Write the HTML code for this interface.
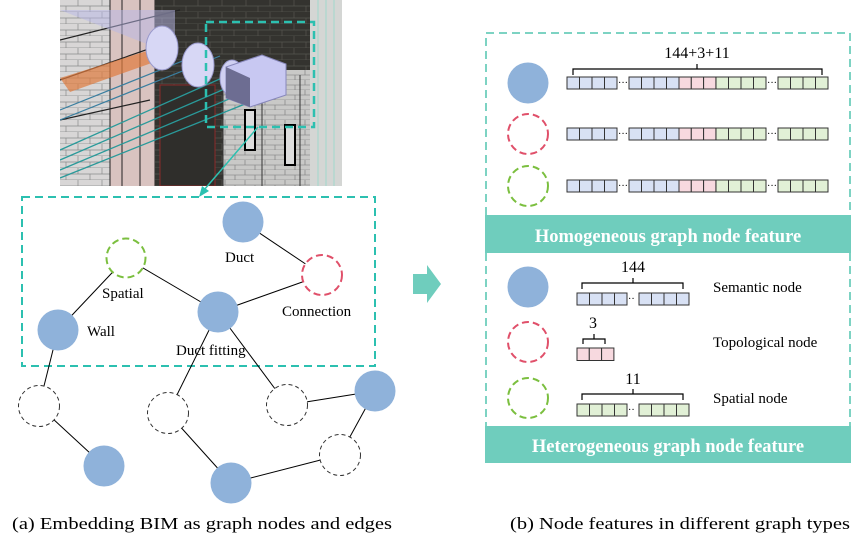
<!DOCTYPE html>
<html><head><meta charset="utf-8"><style>
html,body{margin:0;padding:0;background:#fff;}
svg{display:block;}
text{font-family:"Liberation Serif",serif;}
</style></head><body>
<svg width="865" height="548" viewBox="0 0 865 548" xmlns="http://www.w3.org/2000/svg">
<defs>
<pattern id="brickL" width="24" height="12" patternUnits="userSpaceOnUse">
<rect width="24" height="12" fill="#d8d6d6"/>
<path d="M0 12H24M0 6H24M6 0V6M18 6V12" stroke="#8a8a8a" stroke-width="0.7"/>
</pattern>
<pattern id="brickD" width="24" height="12" patternUnits="userSpaceOnUse">
<rect width="24" height="12" fill="#34332f"/>
<path d="M0 12H24M0 6H24M6 0V6M18 6V12" stroke="#55544f" stroke-width="0.7"/>
</pattern>
<pattern id="brickG" width="20" height="10" patternUnits="userSpaceOnUse">
<rect width="20" height="10" fill="#c9c9c7"/>
<path d="M0 10H20M0 5H20M5 0V5M15 5V10" stroke="#777" stroke-width="0.6"/>
</pattern>
<clipPath id="img"><rect x="60" y="0" width="282" height="186"/></clipPath>
</defs>

<!-- BIM image -->
<g clip-path="url(#img)">
<rect x="60" y="0" width="282" height="186" fill="url(#brickL)"/>
<rect x="110" y="0" width="45" height="186" fill="#d9c3c0"/>
<path d="M110 0V186M122 0V186M140 0V186M155 0V186" stroke="#222" stroke-width="1"/>
<rect x="155" y="0" width="155" height="186" fill="url(#brickD)"/>
<rect x="160" y="85" width="55" height="101" fill="#2f2e2b" stroke="#8b2a2a"/>
<rect x="223" y="70" width="87" height="116" fill="url(#brickG)"/>
<path d="M223 70V186M262 75V186M300 75V186" stroke="#333"/>
<rect x="310" y="0" width="32" height="186" fill="#d4d6d4"/>
<path d="M318 0V186M326 0V186M334 0V186" stroke="#9fd8cc" stroke-width="1"/>
<path d="M60 40L180 10M60 80L160 45M60 120L150 100" stroke="#222" stroke-width="1.2"/>
<path d="M60 78L150 50L160 60L70 92Z" fill="#e07a3d" opacity="0.7"/>
<path d="M60 150L240 70M60 160L250 78M60 170L260 86M60 178L270 94" stroke="#2a9a9a" stroke-width="1.3"/>
<path d="M60 110L210 50M60 120L220 56" stroke="#3a7fa0" stroke-width="1.2"/>
<path d="M60 10L175 55L175 10Z" fill="#b8b8e8" opacity="0.5"/>
<ellipse cx="162" cy="48" rx="16" ry="22" fill="#d7d7f5" stroke="#9999cc"/>
<ellipse cx="198" cy="65" rx="16" ry="22" fill="#d7d7f5" stroke="#9999cc"/>
<ellipse cx="232" cy="78" rx="12" ry="18" fill="#d0d0f2" stroke="#9999cc"/>
<path d="M226 67L262 55L286 64V95L250 107L226 98Z" fill="#c8c8f2" stroke="#8888bb"/>
<path d="M226 67L250 78V107L226 98Z" fill="#6d6d92"/>
<rect x="245" y="110" width="10" height="40" fill="#ddd" stroke="#000" stroke-width="2"/>
<rect x="285" y="125" width="10" height="40" fill="#ddd" stroke="#000" stroke-width="2"/>
<rect x="206" y="22" width="108" height="105" fill="none" stroke="#2cc0b0" stroke-width="2.5" stroke-dasharray="8,5"/>
</g>
<line x1="258" y1="127" x2="204" y2="190" stroke="#2cc0b0" stroke-width="1.5"/>
<path d="M199 197L202 186L209 191Z" fill="#2cc0b0"/>

<!-- left graph -->
<rect x="22" y="197" width="353" height="169" fill="none" stroke="#2cc0b0" stroke-width="2" stroke-dasharray="8,5"/>
<g stroke="#000" stroke-width="1">
<line x1="243" y1="222" x2="322" y2="275"/>
<line x1="126" y1="258" x2="218" y2="312"/>
<line x1="126" y1="258" x2="58" y2="330"/>
<line x1="218" y1="312" x2="322" y2="275"/>
<line x1="218" y1="312" x2="168" y2="413"/>
<line x1="218" y1="312" x2="287" y2="405"/>
<line x1="58" y1="330" x2="39" y2="406"/>
<line x1="39" y1="406" x2="104" y2="466"/>
<line x1="168" y1="413" x2="231" y2="483"/>
<line x1="287" y1="405" x2="375" y2="391"/>
<line x1="375" y1="391" x2="340" y2="455"/>
<line x1="340" y1="455" x2="231" y2="483"/>
</g>
<g fill="#8fb2da">
<circle cx="243" cy="222" r="20.5"/>
<circle cx="218" cy="312" r="20.5"/>
<circle cx="58" cy="330" r="20.5"/>
<circle cx="375" cy="391" r="20.5"/>
<circle cx="104" cy="466" r="20.5"/>
<circle cx="231" cy="483" r="20.5"/>
</g>
<circle cx="126" cy="258" r="19.5" fill="#fff" stroke="#7bbf3f" stroke-width="2" stroke-dasharray="7,4"/>
<circle cx="322" cy="275" r="20" fill="#fff" stroke="#e0506a" stroke-width="2" stroke-dasharray="7,4"/>
<g fill="#fff" stroke="#333" stroke-width="1" stroke-dasharray="4,3">
<circle cx="39" cy="406" r="20.5"/>
<circle cx="168" cy="413" r="20.5"/>
<circle cx="287" cy="405" r="20.5"/>
<circle cx="340" cy="455" r="20.5"/>
</g>
<g font-size="15" fill="#000">
<text x="225" y="262">Duct</text>
<text x="102" y="298">Spatial</text>
<text x="282" y="316">Connection</text>
<text x="87" y="336">Wall</text>
<text x="176" y="355">Duct fitting</text>
</g>

<!-- arrow -->
<path d="M413 274H427V265L441 284L427 303V294H413Z" fill="#6fcdbd"/>

<!-- right panel -->
<path d="M486 215V33H850V215M486 253V426M850 253V426" fill="none" stroke="#7dd3c3" stroke-width="2" stroke-dasharray="8,5"/>
<rect x="485" y="215" width="366" height="38" fill="#6fcdbd"/>
<rect x="485" y="426" width="366" height="37" fill="#6fcdbd"/>
<text x="668" y="242" font-size="18.5" font-weight="bold" fill="#fff" text-anchor="middle">Homogeneous graph node feature</text>
<text x="668" y="452" font-size="18.5" font-weight="bold" fill="#fff" text-anchor="middle">Heterogeneous graph node feature</text>

<circle cx="528" cy="83" r="20.5" fill="#8fb2da"/>
<circle cx="528" cy="134" r="20" fill="none" stroke="#e0506a" stroke-width="2" stroke-dasharray="7,4"/>
<circle cx="528" cy="186" r="20" fill="none" stroke="#7bbf3f" stroke-width="2" stroke-dasharray="7,4"/>

<text x="697" y="58" font-size="16" text-anchor="middle">144+3+11</text>
<path d="M573 75V69H822V75M697 69V64" fill="none" stroke="#000" stroke-width="1.2"/>

<g id="row" stroke="#333" stroke-width="1">
<g fill="#d8e1f4">
<rect x="567" y="77" width="12.5" height="12"/><rect x="579.5" y="77" width="12.5" height="12"/><rect x="592" y="77" width="12.5" height="12"/><rect x="604.5" y="77" width="12.5" height="12"/>
<rect x="629" y="77" width="12.5" height="12"/><rect x="641.5" y="77" width="12.5" height="12"/><rect x="654" y="77" width="12.5" height="12"/><rect x="666.5" y="77" width="12.5" height="12"/>
</g>
<g fill="#f7d9df">
<rect x="679" y="77" width="12.3" height="12"/><rect x="691.3" y="77" width="12.3" height="12"/><rect x="703.6" y="77" width="12.3" height="12"/>
</g>
<g fill="#e1f0d6">
<rect x="716" y="77" width="12.5" height="12"/><rect x="728.5" y="77" width="12.5" height="12"/><rect x="741" y="77" width="12.5" height="12"/><rect x="753.5" y="77" width="12.5" height="12"/>
<rect x="778" y="77" width="12.5" height="12"/><rect x="790.5" y="77" width="12.5" height="12"/><rect x="803" y="77" width="12.5" height="12"/><rect x="815.5" y="77" width="12.5" height="12"/>
</g>
</g>
<g font-size="10"><text x="618" y="86">···</text><text x="767" y="86">···</text></g>
<use href="#row" y="51"/>
<g font-size="10"><text x="618" y="137">···</text><text x="767" y="137">···</text></g>
<use href="#row" y="103"/>
<g font-size="10"><text x="618" y="189">···</text><text x="767" y="189">···</text></g>

<!-- hetero -->
<circle cx="528" cy="287" r="20.5" fill="#8fb2da"/>
<circle cx="528" cy="342" r="20" fill="none" stroke="#e0506a" stroke-width="2" stroke-dasharray="7,4"/>
<circle cx="528" cy="398" r="20" fill="none" stroke="#7bbf3f" stroke-width="2" stroke-dasharray="7,4"/>

<text x="633" y="272" font-size="16" text-anchor="middle">144</text>
<path d="M582 289V283H683V289M633 283V278" fill="none" stroke="#000" stroke-width="1.2"/>
<g stroke="#333" fill="#d8e1f4">
<rect x="577" y="293" width="12.5" height="12"/><rect x="589.5" y="293" width="12.5" height="12"/><rect x="602" y="293" width="12.5" height="12"/><rect x="614.5" y="293" width="12.5" height="12"/>
<rect x="639" y="293" width="12.5" height="12"/><rect x="651.5" y="293" width="12.5" height="12"/><rect x="664" y="293" width="12.5" height="12"/><rect x="676.5" y="293" width="12.5" height="12"/>
</g>
<text x="628" y="302" font-size="10">··</text>

<text x="593" y="328" font-size="16" text-anchor="middle">3</text>
<path d="M583 344V339H605V344M594 339V334" fill="none" stroke="#000" stroke-width="1.2"/>
<g stroke="#333" fill="#f7d9df">
<rect x="577" y="348" width="12.3" height="12.5"/><rect x="589.3" y="348" width="12.3" height="12.5"/><rect x="601.6" y="348" width="12.3" height="12.5"/>
</g>

<text x="633" y="384" font-size="16" text-anchor="middle">11</text>
<path d="M582 400V394H683V400M633 394V389" fill="none" stroke="#000" stroke-width="1.2"/>
<g stroke="#333" fill="#e1f0d6">
<rect x="577" y="404" width="12.5" height="12"/><rect x="589.5" y="404" width="12.5" height="12"/><rect x="602" y="404" width="12.5" height="12"/><rect x="614.5" y="404" width="12.5" height="12"/>
<rect x="639" y="404" width="12.5" height="12"/><rect x="651.5" y="404" width="12.5" height="12"/><rect x="664" y="404" width="12.5" height="12"/><rect x="676.5" y="404" width="12.5" height="12"/>
</g>
<text x="628" y="413" font-size="10">··</text>

<g font-size="15">
<text x="713" y="292">Semantic node</text>
<text x="713" y="347">Topological node</text>
<text x="713" y="403">Spatial node</text>
</g>

<text x="12" y="529" font-size="17" textLength="380" lengthAdjust="spacingAndGlyphs">(a) Embedding BIM as graph nodes and edges</text>
<text x="510" y="529" font-size="17" textLength="340" lengthAdjust="spacingAndGlyphs">(b) Node features in different graph types</text>
</svg>
</body></html>
